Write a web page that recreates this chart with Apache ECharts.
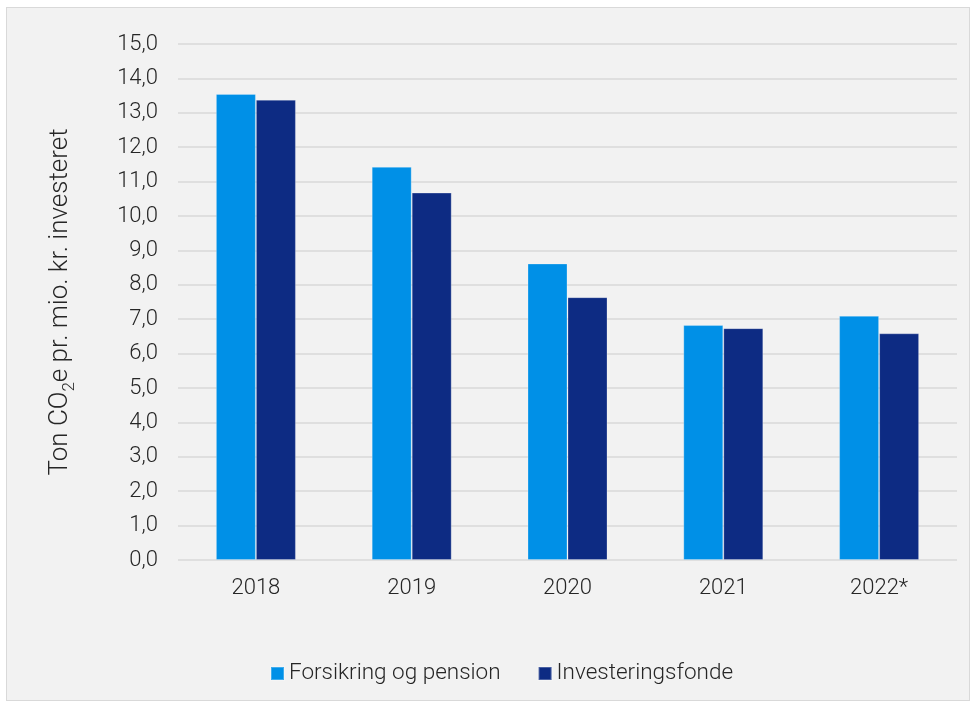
<!DOCTYPE html>
<html>
<head>
<meta charset="utf-8">
<script src="https://cdn.jsdelivr.net/npm/echarts@6/dist/echarts.min.js"></script>
<style>
  html, body { margin: 0; padding: 0; background: #ffffff; }
  #frame {
    position: absolute; left: 6px; top: 7px; width: 962px; height: 692px;
    background: #f2f2f2; border: 1px solid #d9d9d9;
  }
  #chart { width: 100%; height: 100%; }
</style>
</head>
<body>
<div id="frame"><div id="chart"></div></div>
<script>
// data
const years = ['2018', '2019', '2020', '2021', '2022*']
const forsikring = [13.55, 11.43, 8.62, 6.83, 7.1]
const investering = [13.38, 10.68, 7.64, 6.74, 6.59]
const seriesNames = ['Forsikring og pension', 'Investeringsfonde']

const chart = echarts.init(document.getElementById('chart'))

const textColor = '#262626'
const font = 'Roboto'

chart.setOption({
  backgroundColor: '#f2f2f2',
  textStyle: { fontFamily: font, fontWeight: 300 },
  legend: {
    bottom: 10,
    left: 258,
    itemWidth: 13,
    itemHeight: 13,
    itemGap: 37,
    icon: 'rect',
    textStyle: { fontSize: 22.5, color: textColor, fontFamily: font, fontWeight: 300 },
    data: seriesNames
  },
  grid: { left: 171, right: 12, top: 36, bottom: 140 },
  xAxis: {
    type: 'category',
    data: years,
    axisLine: { show: false },
    axisTick: { show: false },
    axisLabel: { fontSize: 22, color: textColor, margin: 17, fontFamily: font, fontWeight: 300 }
  },
  yAxis: {
    type: 'value',
    min: 0,
    max: 15,
    interval: 1,
    name: 'Ton CO{sub|2}e pr. mio. kr. investeret',
    nameLocation: 'middle',
    nameRotate: 90,
    nameGap: 100,
    nameTextStyle: {
      fontSize: 26, color: textColor, fontFamily: font, fontWeight: 300,
      rich: {
        sub: { fontSize: 17, fontFamily: font, fontWeight: 300, color: textColor, verticalAlign: 'bottom', padding: [18, 0, 0, 0] }
      }
    },
    axisLabel: {
      fontSize: 22, color: textColor, margin: 20, fontFamily: font, fontWeight: 300,
      formatter: v => v.toFixed(1).replace('.', ',')
    },
    splitLine: { lineStyle: { color: '#d9d9d9', width: 1.5 } }
  },
  series: [
    {
      name: seriesNames[0],
      type: 'bar',
      data: forsikring,
      barWidth: 40,
      barGap: '0%',
      itemStyle: { color: '#0090e7', borderColor: 'rgba(255,255,255,0.25)', borderWidth: 1 }
    },
    {
      name: seriesNames[1],
      type: 'bar',
      data: investering,
      barWidth: 40,
      itemStyle: { color: '#0d2b83', borderColor: 'rgba(255,255,255,0.25)', borderWidth: 1 }
    }
  ]
})

window.addEventListener('resize', () => chart.resize())
</script>
</body>
</html>
